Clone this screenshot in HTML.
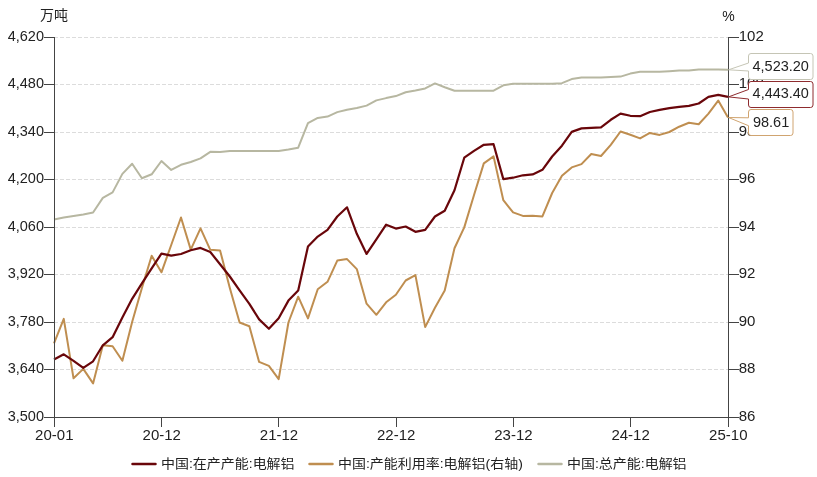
<!DOCTYPE html><html><head><meta charset="utf-8"><style>
html,body{margin:0;padding:0;background:#fff;}
body{width:817px;height:477px;overflow:hidden;}
svg{display:block;will-change:transform;}
text{font-family:"Liberation Sans", "Noto Sans CJK SC", sans-serif;fill:#222;}
</style></head><body>
<svg width="817" height="477" viewBox="0 0 817 477">
<line x1="54" y1="37.5" x2="728" y2="37.5" stroke="#dcdcdc" stroke-width="1" stroke-dasharray="4 2"/>
<line x1="54" y1="84.5" x2="728" y2="84.5" stroke="#dcdcdc" stroke-width="1" stroke-dasharray="4 2"/>
<line x1="54" y1="132.5" x2="728" y2="132.5" stroke="#dcdcdc" stroke-width="1" stroke-dasharray="4 2"/>
<line x1="54" y1="179.5" x2="728" y2="179.5" stroke="#dcdcdc" stroke-width="1" stroke-dasharray="4 2"/>
<line x1="54" y1="227.5" x2="728" y2="227.5" stroke="#dcdcdc" stroke-width="1" stroke-dasharray="4 2"/>
<line x1="54" y1="274.5" x2="728" y2="274.5" stroke="#dcdcdc" stroke-width="1" stroke-dasharray="4 2"/>
<line x1="54" y1="322.5" x2="728" y2="322.5" stroke="#dcdcdc" stroke-width="1" stroke-dasharray="4 2"/>
<line x1="54" y1="369.5" x2="728" y2="369.5" stroke="#dcdcdc" stroke-width="1" stroke-dasharray="4 2"/>
<polyline fill="none" stroke="#b7b7a1" stroke-width="2" stroke-linejoin="round" points="54.00,219.60 63.77,217.60 73.54,216.00 83.30,214.40 93.07,212.50 102.84,197.90 112.61,192.40 122.38,173.90 132.14,163.80 141.91,178.30 151.68,174.30 161.45,161.00 171.22,169.90 180.99,164.80 190.75,162.00 200.52,158.40 210.29,151.80 220.06,152.10 229.83,150.90 239.59,150.90 249.36,150.90 259.13,150.90 268.90,150.90 278.67,150.90 288.43,149.60 298.20,147.70 307.97,123.10 317.74,117.90 327.51,116.60 337.28,112.10 347.04,109.80 356.81,108.00 366.58,105.60 376.35,100.40 386.12,98.10 395.88,96.10 405.65,92.30 415.42,90.50 425.19,88.40 434.96,83.40 444.72,87.20 454.49,90.70 464.26,90.70 474.03,90.70 483.80,90.70 493.57,90.70 503.33,85.30 513.10,83.80 522.87,83.80 532.64,83.80 542.41,83.80 552.17,83.80 561.94,83.20 571.71,79.10 581.48,77.40 591.25,77.40 601.01,77.40 610.78,77.00 620.55,76.60 630.32,73.60 640.09,71.70 649.86,71.70 659.62,71.70 669.39,71.20 679.16,70.60 688.93,70.40 698.70,69.60 708.46,69.60 718.23,69.60 728.00,69.80"/>
<polyline fill="none" stroke="#bf8e50" stroke-width="2" stroke-linejoin="round" points="54.00,343.40 63.77,318.90 73.54,378.30 83.30,368.90 93.07,383.40 102.84,345.30 112.61,346.20 122.38,360.80 132.14,322.00 141.91,288.00 151.68,255.70 161.45,272.30 171.22,245.00 180.99,217.50 190.75,249.60 200.52,228.30 210.29,249.80 220.06,250.40 229.83,288.00 239.59,322.50 249.36,326.30 259.13,361.90 268.90,365.90 278.67,379.10 288.43,322.50 298.20,296.70 307.97,318.40 317.74,289.30 327.51,281.80 337.28,260.60 347.04,259.10 356.81,269.10 366.58,303.70 376.35,314.80 386.12,302.30 395.88,294.70 405.65,280.50 415.42,275.10 425.19,327.10 434.96,307.80 444.72,290.50 454.49,248.20 464.26,227.40 474.03,195.00 483.80,163.40 493.57,156.40 503.33,200.20 513.10,212.40 522.87,215.90 532.64,215.70 542.41,216.40 552.17,193.00 561.94,175.80 571.71,167.40 581.48,164.10 591.25,154.00 601.01,156.00 610.78,144.80 620.55,131.50 630.32,134.80 640.09,138.40 649.86,132.90 659.62,134.90 669.39,132.00 679.16,126.70 688.93,122.80 698.70,124.20 708.46,113.60 718.23,100.60 728.00,117.50"/>
<polyline fill="none" stroke="#69060a" stroke-width="2.2" stroke-linejoin="round" points="54.00,359.40 63.77,354.30 73.54,360.80 83.30,367.90 93.07,361.30 102.84,345.30 112.61,337.20 122.38,317.40 132.14,298.80 141.91,283.40 151.68,268.30 161.45,253.60 171.22,255.70 180.99,254.00 190.75,250.20 200.52,247.90 210.29,252.00 220.06,264.30 229.83,276.50 239.59,290.40 249.36,303.80 259.13,319.40 268.90,328.80 278.67,318.30 288.43,300.60 298.20,290.40 307.97,246.50 317.74,236.60 327.51,229.80 337.28,216.50 347.04,207.30 356.81,233.80 366.58,253.90 376.35,239.30 386.12,224.70 395.88,228.60 405.65,226.50 415.42,231.80 425.19,229.80 434.96,216.50 444.72,210.70 454.49,190.20 464.26,157.70 474.03,150.90 483.80,144.80 493.57,144.20 503.33,179.10 513.10,177.70 522.87,175.30 532.64,174.40 542.41,169.80 552.17,156.50 561.94,145.70 571.71,131.90 581.48,128.40 591.25,127.80 601.01,127.40 610.78,119.80 620.55,113.60 630.32,115.80 640.09,116.20 649.86,112.00 659.62,109.90 669.39,108.10 679.16,106.80 688.93,105.90 698.70,103.50 708.46,96.80 718.23,94.90 728.00,96.90"/>
<g stroke="#444" stroke-width="1" fill="none">
<line x1="54.5" y1="37" x2="54.5" y2="418"/>
<line x1="728.5" y1="37" x2="728.5" y2="418"/>
<line x1="54" y1="417.5" x2="729" y2="417.5"/>
<line x1="44" y1="37.5" x2="54.5" y2="37.5"/>
<line x1="728.5" y1="37.5" x2="739" y2="37.5"/>
<line x1="44" y1="84.5" x2="54.5" y2="84.5"/>
<line x1="728.5" y1="84.5" x2="739" y2="84.5"/>
<line x1="44" y1="132.5" x2="54.5" y2="132.5"/>
<line x1="728.5" y1="132.5" x2="739" y2="132.5"/>
<line x1="44" y1="179.5" x2="54.5" y2="179.5"/>
<line x1="728.5" y1="179.5" x2="739" y2="179.5"/>
<line x1="44" y1="227.5" x2="54.5" y2="227.5"/>
<line x1="728.5" y1="227.5" x2="739" y2="227.5"/>
<line x1="44" y1="274.5" x2="54.5" y2="274.5"/>
<line x1="728.5" y1="274.5" x2="739" y2="274.5"/>
<line x1="44" y1="322.5" x2="54.5" y2="322.5"/>
<line x1="728.5" y1="322.5" x2="739" y2="322.5"/>
<line x1="44" y1="369.5" x2="54.5" y2="369.5"/>
<line x1="728.5" y1="369.5" x2="739" y2="369.5"/>
<line x1="44" y1="417.5" x2="54.5" y2="417.5"/>
<line x1="728.5" y1="417.5" x2="739" y2="417.5"/>
<line x1="54.5" y1="417.5" x2="54.5" y2="427"/>
<line x1="161.5" y1="417.5" x2="161.5" y2="427"/>
<line x1="278.5" y1="417.5" x2="278.5" y2="427"/>
<line x1="396.5" y1="417.5" x2="396.5" y2="427"/>
<line x1="513.5" y1="417.5" x2="513.5" y2="427"/>
<line x1="630.5" y1="417.5" x2="630.5" y2="427"/>
<line x1="728.5" y1="417.5" x2="728.5" y2="427"/>
</g>
<g font-size="14">
<text transform="translate(44.00,40.90) scale(1,1.030)" font-size="15" text-anchor="end" textLength="36.3" lengthAdjust="spacingAndGlyphs">4,620</text>
<text transform="translate(44.00,87.90) scale(1,1.030)" font-size="15" text-anchor="end" textLength="36.3" lengthAdjust="spacingAndGlyphs">4,480</text>
<text transform="translate(44.00,135.90) scale(1,1.030)" font-size="15" text-anchor="end" textLength="36.3" lengthAdjust="spacingAndGlyphs">4,340</text>
<text transform="translate(44.00,182.90) scale(1,1.030)" font-size="15" text-anchor="end" textLength="36.3" lengthAdjust="spacingAndGlyphs">4,200</text>
<text transform="translate(44.00,230.90) scale(1,1.030)" font-size="15" text-anchor="end" textLength="36.3" lengthAdjust="spacingAndGlyphs">4,060</text>
<text transform="translate(44.00,277.90) scale(1,1.030)" font-size="15" text-anchor="end" textLength="36.3" lengthAdjust="spacingAndGlyphs">3,920</text>
<text transform="translate(44.00,325.90) scale(1,1.030)" font-size="15" text-anchor="end" textLength="36.3" lengthAdjust="spacingAndGlyphs">3,780</text>
<text transform="translate(44.00,372.90) scale(1,1.030)" font-size="15" text-anchor="end" textLength="36.3" lengthAdjust="spacingAndGlyphs">3,640</text>
<text transform="translate(44.00,420.90) scale(1,1.030)" font-size="15" text-anchor="end" textLength="36.3" lengthAdjust="spacingAndGlyphs">3,500</text>
<text transform="translate(738.70,40.80) scale(1,1.030)" font-size="15">102</text>
<text transform="translate(738.70,87.80) scale(1,1.030)" font-size="15">100</text>
<text transform="translate(738.70,135.80) scale(1,1.030)" font-size="15">98</text>
<text transform="translate(738.70,182.80) scale(1,1.030)" font-size="15">96</text>
<text transform="translate(738.70,230.80) scale(1,1.030)" font-size="15">94</text>
<text transform="translate(738.70,277.80) scale(1,1.030)" font-size="15">92</text>
<text transform="translate(738.70,325.80) scale(1,1.030)" font-size="15">90</text>
<text transform="translate(738.70,372.80) scale(1,1.030)" font-size="15">88</text>
<text transform="translate(738.70,420.80) scale(1,1.030)" font-size="15">86</text>
<text transform="translate(54.30,439.60) scale(1,1.030)" font-size="15" text-anchor="middle">20-01</text>
<text transform="translate(161.75,439.60) scale(1,1.030)" font-size="15" text-anchor="middle">20-12</text>
<text transform="translate(278.97,439.60) scale(1,1.030)" font-size="15" text-anchor="middle">21-12</text>
<text transform="translate(396.18,439.60) scale(1,1.030)" font-size="15" text-anchor="middle">22-12</text>
<text transform="translate(513.40,439.60) scale(1,1.030)" font-size="15" text-anchor="middle">23-12</text>
<text transform="translate(630.62,439.60) scale(1,1.030)" font-size="15" text-anchor="middle">24-12</text>
<text transform="translate(728.30,439.60) scale(1,1.030)" font-size="15" text-anchor="middle">25-10</text>
<text x="54" y="20.4" text-anchor="middle">万吨</text>
<text x="728.5" y="21" text-anchor="middle">%</text>
</g>
<path d="M751.0,53.5 L810.5,53.5 Q813.0,53.5 813.0,56.0 L813.0,77.0 Q813.0,79.5 810.5,79.5 L751.0,79.5 Q748.5,79.5 748.5,77.0 L748.5,71.0 L728.5,69.8 L748.5,63.0 L748.5,56.0 Q748.5,53.5 751.0,53.5 Z" fill="#fff" stroke="#c5c5b5" stroke-width="1"/>
<text transform="translate(752.50,71.40) scale(1,1.070)" font-size="14" textLength="56.4" lengthAdjust="spacingAndGlyphs">4,523.20</text>
<path d="M751.0,81.5 L810.5,81.5 Q813.0,81.5 813.0,84.0 L813.0,105.0 Q813.0,107.5 810.5,107.5 L751.0,107.5 Q748.5,107.5 748.5,105.0 L748.5,99.0 L728.5,96.9 L748.5,89.5 L748.5,84.0 Q748.5,81.5 751.0,81.5 Z" fill="#fff" stroke="#8e2b2e" stroke-width="1"/>
<text transform="translate(752.60,98.40) scale(1,1.070)" font-size="14" textLength="56.3" lengthAdjust="spacingAndGlyphs">4,443.40</text>
<path d="M751.0,109.5 L790.5,109.5 Q793.0,109.5 793.0,112.0 L793.0,133.0 Q793.0,135.5 790.5,135.5 L751.0,135.5 Q748.5,135.5 748.5,133.0 L748.5,125.7 L728.5,117.5 L748.5,117.8 L748.5,112.0 Q748.5,109.5 751.0,109.5 Z" fill="#fff" stroke="#d0a470" stroke-width="1"/>
<text transform="translate(752.90,126.90) scale(1,1.070)" font-size="14" textLength="36.3" lengthAdjust="spacingAndGlyphs">98.61</text>
<line x1="132.5" y1="464" x2="155.5" y2="464" stroke="#69060a" stroke-width="2.5" stroke-linecap="round"/>
<text transform="translate(161.0,468.1) scale(1,0.9)" font-size="14">中国:在产产能:电解铝</text>
<line x1="309.5" y1="464" x2="332.5" y2="464" stroke="#bf8e50" stroke-width="2.5" stroke-linecap="round"/>
<text transform="translate(338.0,468.1) scale(1,0.9)" font-size="14">中国:产能利用率:电解铝(右轴)</text>
<line x1="538.5" y1="464" x2="561.5" y2="464" stroke="#b7b7a1" stroke-width="2.5" stroke-linecap="round"/>
<text transform="translate(567.0,468.1) scale(1,0.9)" font-size="14">中国:总产能:电解铝</text>
</svg></body></html>
